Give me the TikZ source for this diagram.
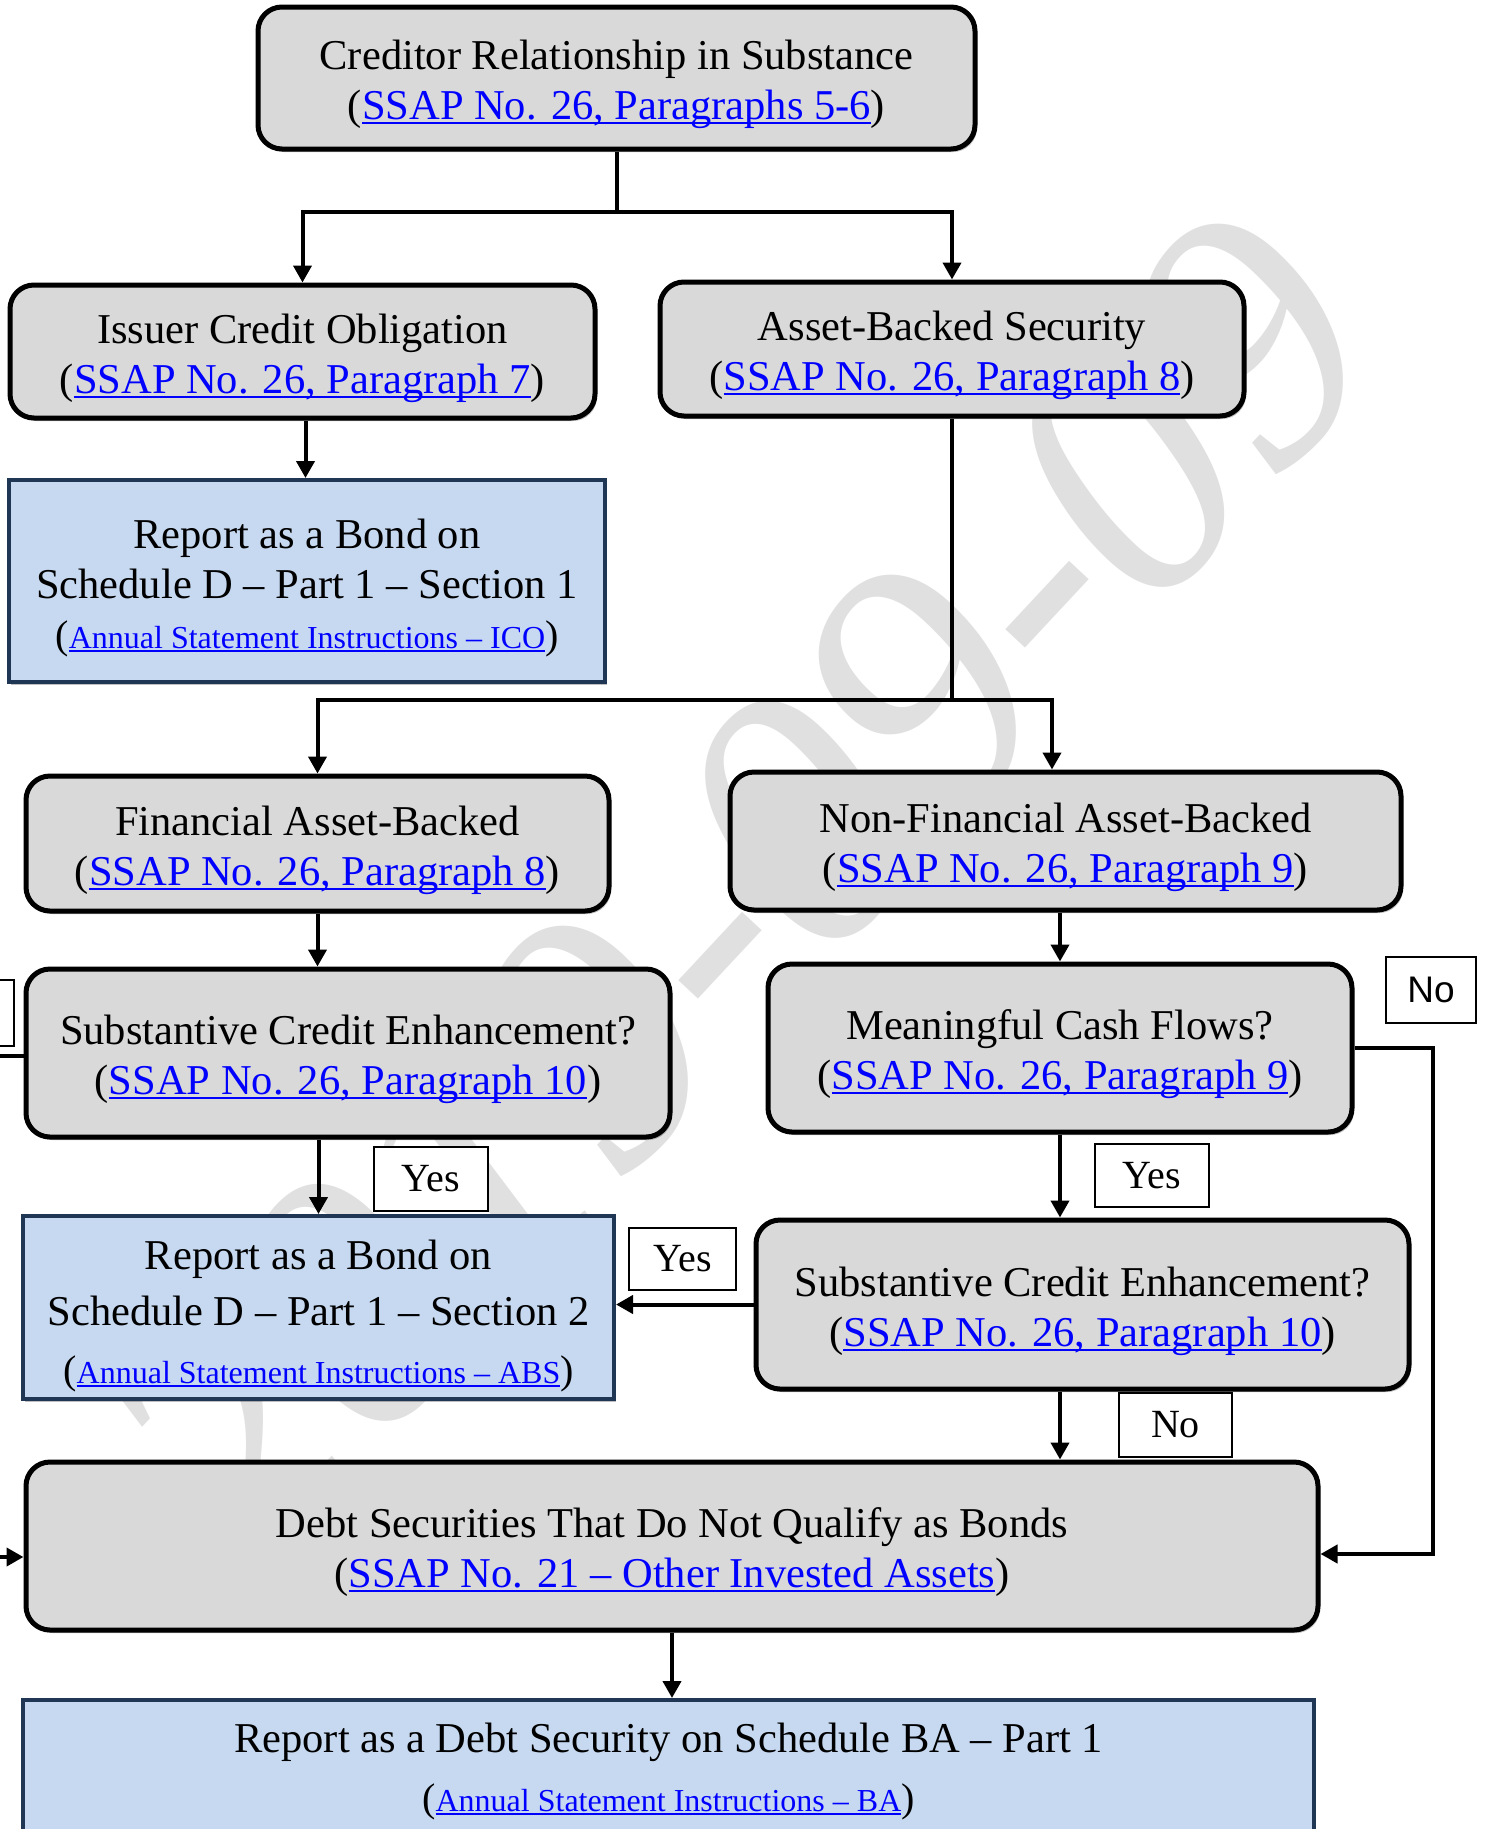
\documentclass[tikz,border=0pt]{standalone}
\usepackage{fontspec}
\setmainfont{Liberation Serif}
\newfontfamily\sansf{Liberation Sans}
\usetikzlibrary{arrows.meta,shadows}
\definecolor{boxgray}{RGB}{217,217,217}
\definecolor{boxblue}{RGB}{198,217,240}
\definecolor{navy}{RGB}{31,54,84}
\definecolor{lnkblue}{RGB}{0,0,255}
\definecolor{wmgray}{RGB}{224,224,224}
\newcommand\lnk[1]{{\color{lnkblue}\setbox0\hbox{#1}\rlap{\rule[-0.11em]{\wd0}{0.055em}}\box0}}
\newcommand\smallnk[1]{{\fontsize{40}{50}\selectfont(}{\fontsize{32}{40}\selectfont\lnk{#1}}{\fontsize{40}{50}\selectfont)}}
\newcommand\tst{\rule{0pt}{1em}}
\begin{document}
\begin{tikzpicture}[x=1pt,y=-1pt,
  gbox/.style={draw=black, line width=5pt, fill=boxgray, rounded corners=24pt, align=center, inner sep=0pt,
    font=\fontsize{42.5}{50}\selectfont, drop shadow={shadow xshift=2pt, shadow yshift=-3pt, opacity=0.25, fill=black}},
  bbox/.style={draw=navy, line width=4pt, fill=boxblue, align=center, inner sep=0pt,
    font=\fontsize{42.5}{50}\selectfont, drop shadow={shadow xshift=2pt, shadow yshift=-3pt, opacity=0.25, fill=black}},
  lbl/.style={draw=black, line width=1.3pt, fill=white, inner sep=0pt, font=\fontsize{40}{48}\selectfont},
  ln/.style={line width=4pt},
  arr/.style={line width=4pt, -{Triangle[length=17pt,width=18pt]}}]
\useasboundingbox (0,0) rectangle (1484,1829);
\clip (0,0) rectangle (1484,1829);
\fill[white] (0,0) rectangle (1484,1829);
% watermark
\node[text=wmgray, font=\fontsize{360}{360}\selectfont\itshape, rotate=47, inner sep=0pt] (wmk) at (737,889) {2019-09-09};
% boxes
\node[gbox, minimum width=717pt, minimum height=142pt] (top) at (616.5,78) {\tst Creditor Relationship in Substance\\(\lnk{SSAP No. 26, Paragraphs 5-6})};
\node[gbox, minimum width=585pt, minimum height=133pt] (ico) at (302.5,351.5) {\tst Issuer Credit Obligation\\(\lnk{SSAP No. 26, Paragraph 7})};
\node[gbox, minimum width=584pt, minimum height=134pt] (abs) at (952,349) {\tst Asset-Backed Security\\(\lnk{SSAP No. 26, Paragraph 8})};
\node[bbox, minimum width=596pt, minimum height=202pt] (rep1) at (307,581) {\tst Report as a Bond on\\Schedule D -- Part 1 -- Section 1\\\smallnk{Annual Statement Instructions -- ICO}};
\node[gbox, minimum width=583pt, minimum height=135pt] (fab) at (317.5,843.5) {\tst Financial Asset-Backed\\(\lnk{SSAP No. 26, Paragraph 8})};
\node[gbox, minimum width=671pt, minimum height=138pt] (nfab) at (1065.5,841) {\tst Non-Financial Asset-Backed\\(\lnk{SSAP No. 26, Paragraph 9})};
\node[gbox, minimum width=644pt, minimum height=168pt] (sce1) at (348,1053) {\tst Substantive Credit Enhancement?\\(\lnk{SSAP No. 26, Paragraph 10})};
\node[gbox, minimum width=584pt, minimum height=168pt] (mcf) at (1060,1048) {\tst Meaningful Cash Flows?\\(\lnk{SSAP No. 26, Paragraph 9})};
\node[bbox, minimum width=591pt, minimum height=183pt] (rep2) at (318.5,1307.5) {\rule{0pt}{1.1em}Report as a Bond on\\[6pt]Schedule D -- Part 1 -- Section 2\\[8pt]\smallnk{Annual Statement Instructions -- ABS}};
\node[gbox, minimum width=653pt, minimum height=169pt] (sce2) at (1082.5,1304.5) {\tst Substantive Credit Enhancement?\\(\lnk{SSAP No. 26, Paragraph 10})};
\node[gbox, minimum width=1292pt, minimum height=168pt] (debt) at (672,1546) {\tst Debt Securities That Do Not Qualify as Bonds\\(\lnk{SSAP No. 21 -- Other Invested Assets})};
\node[bbox, minimum width=1291pt, minimum height=136pt] (ba) at (668.5,1768) {\rule{0pt}{0.85em}Report as a Debt Security on Schedule BA -- Part 1\\[9pt]\smallnk{Annual Statement Instructions -- BA}};
% connectors
\coordinate (j1) at (616.5,212);
\draw[arr] (top.south) -- (j1) -| (ico.north);
\draw[arr] (j1) -| (abs.north);
\draw[arr] ([xshift=3pt]ico.south) -- ([xshift=3pt]ico.south |- rep1.north);
\coordinate (j2) at (952,700);
\draw[arr] (abs.south) -- (j2) -| (fab.north);
\draw[arr] (j2) -| ([xshift=-13.5pt]nfab.north);
\draw[arr] (fab.south) -- (fab.south |- sce1.north);
\draw[arr] (mcf.north |- nfab.south) -- (mcf.north);
\draw[arr] (rep2.north |- sce1.south) -- (rep2.north);
\draw[arr] (mcf.south) -- (mcf.south |- sce2.north);
\draw[arr] (sce2.west) -- (sce2.west -| rep2.east);
\draw[arr] (mcf.south |- sce2.south) -- (mcf.south |- debt.north);
\coordinate (rr) at (1433,1048);
\draw[arr] (mcf.east) -- (rr) |- ([yshift=-8pt]debt.east);
\coordinate (ll) at (-40,1056);
\draw[arr] (sce1.west |- ll) -- (ll) |- ([yshift=-11pt]debt.west);
\draw[arr] (debt.south) -- (debt.south |- ba.north);
% labels
\node[lbl, minimum width=114pt, minimum height=64pt] (yes1) at (431,1179) {Yes};
\node[lbl, minimum width=107pt, minimum height=62pt] (yes2) at (682.5,1259) {Yes};
\node[lbl, minimum width=114pt, minimum height=63pt] (yes3) at (1152,1175.5) {Yes};
\node[lbl, minimum width=113pt, minimum height=64pt] (no1) at (1175.5,1425) {No};
\node[lbl, minimum width=90pt, minimum height=66pt, font=\fontsize{37}{44}\sansf] (no2) at (1431,990) {No};
\node[lbl, minimum width=108pt, minimum height=66pt] (noleft) at (-40,1013) {};
\end{tikzpicture}
\end{document}
